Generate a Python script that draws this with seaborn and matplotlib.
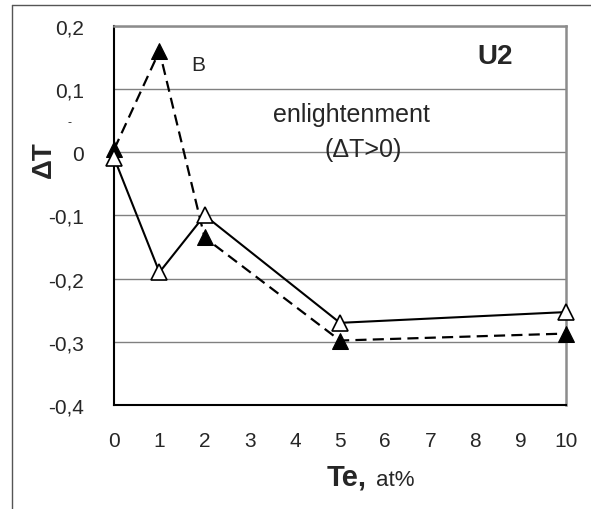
import numpy as np
import pandas as pd
import matplotlib
matplotlib.use("Agg")
import matplotlib.pyplot as plt
import seaborn as sns
from matplotlib.lines import Line2D

# data
te_at = [0, 1, 2, 5, 10]
dT_open = [-0.01, -0.19, -0.10, -0.27, -0.253]      # open triangles, solid line
dT_filled = [0.005, 0.16, -0.135, -0.298, -0.287]   # filled triangles, dashed line
x_ticks = list(range(0, 11))
y_ticks = [-0.4, -0.3, -0.2, -0.1, 0, 0.1, 0.2]

sns.set_style("white")
plt.rcParams['font.family'] = ['Liberation Sans', 'DejaVu Sans']

fig = plt.figure(figsize=(5.91, 5.10), dpi=100)
ax = fig.add_axes([0.1934, 0.2039, 0.7638, 0.7437])

# outer frame (top and left only visible)
fig.add_artist(Line2D([12/591, 1.0], [1-6/510, 1-6/510], color="#555555", lw=1.0))
fig.add_artist(Line2D([12/591, 12/591], [0, 1-6/510], color="#555555", lw=1.0))

df = pd.DataFrame({"te": te_at, "open": dT_open, "filled": dT_filled})

sns.lineplot(data=df, x="te", y="filled", ax=ax, color="black", lw=1.6,
             linestyle=(0, (5, 2.8)), marker="^", markersize=11,
             markerfacecolor="black", markeredgecolor="black", zorder=3)
sns.lineplot(data=df, x="te", y="open", ax=ax, color="black", lw=1.5,
             marker="^", markersize=11, markerfacecolor="white",
             markeredgecolor="black", markeredgewidth=1.2, zorder=4)
for ln in ax.lines:
    ln.set_clip_on(False)

ax.set_xlim(0, 10)
ax.set_ylim(-0.4, 0.2)
ax.set_xticks(x_ticks)
ax.set_xticklabels([str(t) for t in x_ticks], fontsize=15)
ax.set_yticks(y_ticks)
ax.set_yticklabels([f"{v:.1f}".replace(".", ",") if v != 0 else "0" for v in y_ticks],
                   fontsize=15)
ax.tick_params(axis="x", direction="in", length=5, width=1, color="#444444", pad=19)
ax.tick_params(axis="y", length=0, pad=22)
ax.yaxis.grid(True, color="#808080", lw=1.0)
ax.set_axisbelow(True)
ax.set_xlabel("")
ax.set_ylabel("")

for side in ["left", "bottom"]:
    ax.spines[side].set_color("black")
    ax.spines[side].set_linewidth(1.5)
for side in ["top", "right"]:
    ax.spines[side].set_color("#8c8c8c")
    ax.spines[side].set_linewidth(1.8)

ax.text(1.86, 0.138, "B", fontsize=15, ha="center", va="center")
ax.text(8.43, 0.152, "U2", fontsize=20, fontweight="bold", ha="center", va="center")
ax.text(5.26, 0.06, "enlightenment", fontsize=18, ha="center", va="center")
ax.text(5.51, 0.005, "(\u0394T>0)", fontsize=18, ha="center", va="center")

fig.text(69/591, 1-123/510, "-", fontsize=9, ha="center", va="center")
fig.text(44/591, 1-160/510, "\u0394T", fontsize=20, fontweight="bold",
         rotation=90, ha="center", va="center")
fig.text(367/591, 1-486/510, "Te,", fontsize=21, fontweight="bold", ha="right", va="baseline")
fig.text(376/591, 1-486/510, "at%", fontsize=16, ha="left", va="baseline")

fig.savefig("out.png", dpi=100)
